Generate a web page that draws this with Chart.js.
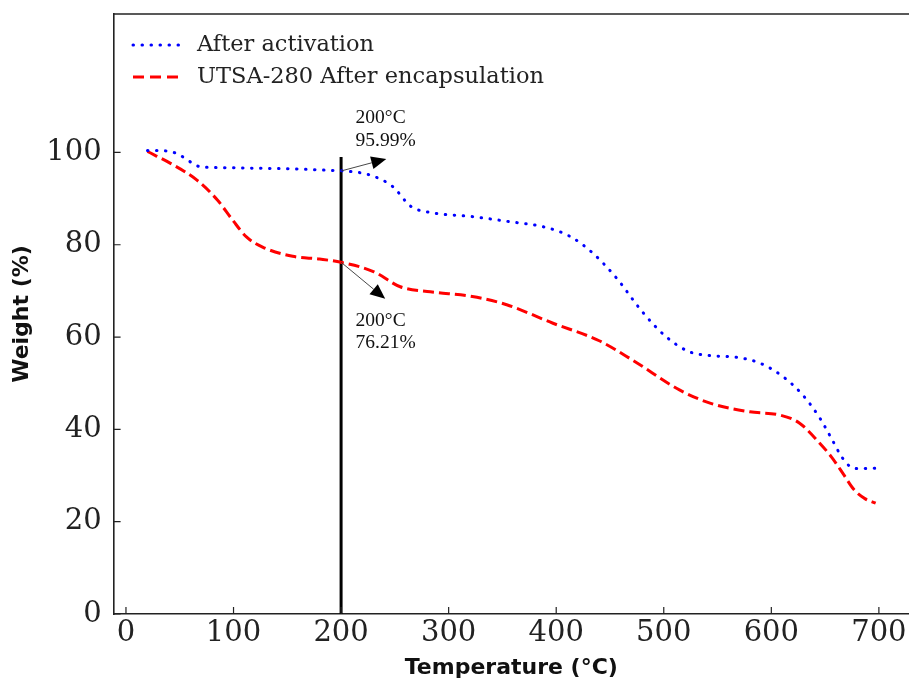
<!DOCTYPE html>
<html>
<head>
<meta charset="utf-8">
<script src="https://cdn.jsdelivr.net/npm/chart.js@4.4.1/dist/chart.umd.min.js"></script>
<style>
  html, body { margin: 0; padding: 0; background: #fff; overflow: hidden; }
  #wrap { position: relative; width: 909px; height: 679px; }
</style>
</head>
<body>
<div id="wrap"><canvas id="c" width="909" height="679"></canvas></div>
<script>
// ---- Data ----
const tempActivation = [20, 31, 47, 61, 69, 90, 118, 160, 192, 202, 227, 248, 265, 283, 322, 357, 388, 413, 434, 456, 480, 502, 524, 543, 568, 589, 611, 629, 645, 656, 665, 673, 681, 697];
const weightActivation = [100.4, 100.4, 99.8, 97.8, 96.9, 96.7, 96.6, 96.4, 96.1, 96.0, 95.1, 92.6, 88.3, 87.0, 86.1, 85.0, 83.9, 81.8, 78.2, 72.8, 65.5, 60.1, 56.8, 56.0, 55.6, 54.4, 51.4, 47.5, 42.5, 38.0, 34.2, 32.0, 31.5, 31.6];

const tempEncaps = [20, 41, 66, 85, 99, 112, 127, 155, 180, 200, 230, 255, 283, 322, 354, 397, 440, 471, 515, 543, 580, 608, 626, 645, 656, 667, 677, 687, 697];
const weightEncaps = [100.2, 97.7, 94.0, 89.7, 85.4, 81.7, 79.5, 77.5, 76.9, 76.2, 74.2, 70.9, 69.8, 68.8, 67.0, 63.0, 59.2, 55.0, 48.5, 45.7, 43.8, 43.1, 41.4, 37.0, 34.0, 30.3, 26.9, 25.0, 24.0];

const seriesNames = ["After activation", "UTSA-280 After encapsulation"];
const xTicks = [0, 100, 200, 300, 400, 500, 600, 700];
const yTicks = [0, 20, 40, 60, 80, 100];
const markerTemp = 200;
const markerLine = [0, 99];
const annoActivation = { t: 200, w: 95.99, label: ["200°C", "95.99%"] };
const annoEncaps = { t: 200, w: 76.21, label: ["200°C", "76.21%"] };

const toXY = (xs, ys) => xs.map((x, i) => ({ x: x, y: ys[i] }));

const BLUE = '#0000ff';
const RED = '#ff0000';
const AXIS = '#222222';

const extras = {
  id: 'extras',
  afterDraw(chart) {
    const ctx = chart.ctx;
    const xs = chart.scales.x, ys = chart.scales.y;
    const area = chart.chartArea;
    ctx.save();
    // top spine
    ctx.strokeStyle = AXIS;
    ctx.lineWidth = 1.6;
    ctx.beginPath();
    ctx.moveTo(area.left, area.top);
    ctx.lineTo(area.right, area.top);
    ctx.stroke();
    // inward ticks
    ctx.lineWidth = 1.2;
    ctx.beginPath();
    xTicks.forEach(v => {
      const px = xs.getPixelForValue(v);
      ctx.moveTo(px, area.bottom);
      ctx.lineTo(px, area.bottom - 7);
    });
    yTicks.forEach(v => {
      const py = ys.getPixelForValue(v);
      ctx.moveTo(area.left, py);
      ctx.lineTo(area.left + 7, py);
    });
    ctx.stroke();

    // legend
    const legend = [
      { name: seriesNames[0], color: BLUE, dash: [0.5, 8.5], cap: 'round', y: 45 },
      { name: seriesNames[1], color: RED, dash: [11, 6], cap: 'butt', y: 77 }
    ];
    legend.forEach(it => {
      ctx.strokeStyle = it.color;
      ctx.lineWidth = 3;
      ctx.lineCap = it.cap;
      ctx.setLineDash(it.dash);
      ctx.beginPath();
      ctx.moveTo(133, it.y);
      ctx.lineTo(180, it.y);
      ctx.stroke();
      ctx.setLineDash([]);
      ctx.lineCap = 'butt';
      ctx.fillStyle = '#222';
      ctx.font = '22.5px "DejaVu Serif"';
      ctx.textAlign = 'left';
      ctx.textBaseline = 'middle';
      ctx.fillText(it.name, 197, it.y);
    });

    // annotations
    function arrow(x0, y0, x1, y1) {
      const ang = Math.atan2(y1 - y0, x1 - x0);
      const hl = 15, hw = 6.5;
      const bx = x1 - hl * Math.cos(ang), by = y1 - hl * Math.sin(ang);
      ctx.strokeStyle = '#333';
      ctx.lineWidth = 0.9;
      ctx.beginPath();
      ctx.moveTo(x0, y0);
      ctx.lineTo(bx, by);
      ctx.stroke();
      ctx.fillStyle = '#000';
      ctx.beginPath();
      ctx.moveTo(x1, y1);
      ctx.lineTo(bx + hw * Math.sin(ang), by - hw * Math.cos(ang));
      ctx.lineTo(bx - hw * Math.sin(ang), by + hw * Math.cos(ang));
      ctx.closePath();
      ctx.fill();
    }
    const ax = xs.getPixelForValue(annoActivation.t);
    arrow(ax, ys.getPixelForValue(annoActivation.w), xs.getPixelForValue(242), ys.getPixelForValue(98.6));
    arrow(ax, ys.getPixelForValue(annoEncaps.w), xs.getPixelForValue(241), ys.getPixelForValue(68.3));
    ctx.fillStyle = '#111';
    ctx.font = '19.5px "Liberation Serif"';
    ctx.textAlign = 'left';
    ctx.textBaseline = 'middle';
    const tx = xs.getPixelForValue(213.5);
    ctx.fillText(annoActivation.label[0], tx, ys.getPixelForValue(107.6));
    ctx.fillText(annoActivation.label[1], tx, ys.getPixelForValue(102.6));
    ctx.fillText(annoEncaps.label[0], tx, ys.getPixelForValue(63.6));
    ctx.fillText(annoEncaps.label[1], tx, ys.getPixelForValue(58.7));
    ctx.restore();
  }
};

new Chart(document.getElementById('c'), {
  type: 'line',
  data: {
    datasets: [
      {
        label: seriesNames[0],
        data: toXY(tempActivation, weightActivation),
        borderColor: BLUE,
        borderWidth: 3,
        borderDash: [0.5, 8.5],
        borderCapStyle: 'round',
        pointRadius: 0,
        cubicInterpolationMode: 'monotone',
        fill: false
      },
      {
        label: seriesNames[1],
        data: toXY(tempEncaps, weightEncaps),
        borderColor: RED,
        borderWidth: 3,
        borderDash: [11, 5],
        pointRadius: 0,
        cubicInterpolationMode: 'monotone',
        fill: false
      },
      {
        label: 'marker',
        data: markerLine.map(v => ({ x: markerTemp, y: v })),
        borderColor: '#000',
        borderWidth: 3,
        pointRadius: 0,
        fill: false
      }
    ]
  },
  options: {
    responsive: false,
    animation: false,
    layout: { padding: { left: 0, right: 0, top: 14, bottom: 0 } },
    plugins: { legend: { display: false }, tooltip: { enabled: false } },
    scales: {
      x: {
        type: 'linear',
        min: -11.5,
        max: 728,
        afterFit: s => { s.height = 65; s.paddingLeft = 0; s.paddingRight = 0; },
        afterBuildTicks: s => { s.ticks = xTicks.map(v => ({ value: v })); },
        grid: { display: false, drawTicks: false },
        border: { display: true, color: AXIS, width: 1.6 },
        ticks: { color: '#222', font: { family: 'DejaVu Serif', size: 29 }, padding: 2, maxRotation: 0 },
        title: { display: true, text: 'Temperature (°C)', color: '#111', font: { family: 'DejaVu Sans', weight: 'bold', size: 22 }, padding: { top: 0, bottom: -2 } }
      },
      y: {
        type: 'linear',
        min: 0,
        max: 130,
        afterFit: s => { s.width = 113.6; s.paddingTop = 0; s.paddingBottom = 0; },
        afterBuildTicks: s => { s.ticks = yTicks.map(v => ({ value: v })); },
        grid: { display: false, drawTicks: false },
        border: { display: true, color: AXIS, width: 1.6 },
        ticks: { color: '#222', font: { family: 'DejaVu Serif', size: 29 }, padding: 12 },
        title: { display: true, text: 'Weight (%)', color: '#111', font: { family: 'DejaVu Sans', weight: 'bold', size: 22 }, padding: { top: 9, bottom: 0 } }
      }
    }
  },
  plugins: [extras]
});
</script>
</body>
</html>
